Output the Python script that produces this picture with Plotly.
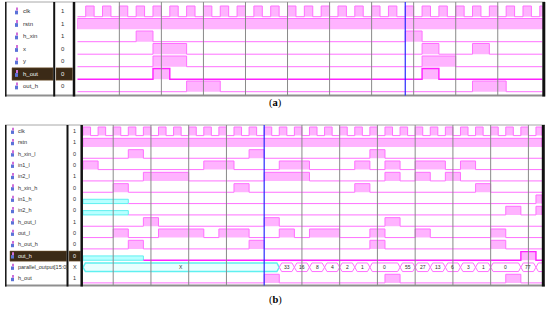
import plotly.graph_objects as go

W, H = 550, 312

# ---- panel (a): signal names, value column, high intervals (ns) ----
names_a = ["clk", "rstn", "h_xin", "x", "y", "h_out", "out_h"]
values_a = ["1", "1", "1", "0", "0", "0", "0"]
clk_a_rise = [5, 15, 25, 35, 45, 55, 65, 75, 85, 95, 105, 115, 125, 135,
              145, 155, 165, 175, 185, 195, 205, 215, 225, 235, 245, 255, 265, 275]
rstn_a = [(0, 280)]
h_xin_a = [(35, 45), (195, 205)]
x_a = [(45, 65), (205, 215), (235, 245)]
y_a = [(45, 65), (205, 225)]
h_out_a = [(45, 55), (205, 215)]
out_h_a = [(65, 85), (235, 255)]
grid_a = [25, 50, 75, 100, 125, 150, 175, 200, 225, 250]
cursor_a = 195

# ---- panel (b) ----
names_b = ["clk", "rstn", "h_xin_l", "in1_l", "in2_l", "h_xin_h", "in1_h", "in2_h",
           "h_out_l", "out_l", "h_out_h", "out_h", "parallel_output[15:0]", "h_out"]
values_b = ["1", "1", "0", "0", "1", "0", "0", "0", "1", "0", "0", "0", "X", "1"]
clk_b_rise = [0, 10, 20, 30, 40, 50, 60, 70, 80, 90, 100, 110, 120, 130, 140, 150,
              160, 170, 180, 190, 200, 210, 220, 230, 240, 250, 260, 270, 280, 290, 300]
rstn_b = [(0, 310)]
h_xin_l_b = [(30, 40), (110, 120), (190, 200)]
in1_l_b = [(0, 10), (80, 100), (130, 150), (180, 190), (200, 210), (220, 240), (250, 260)]
in2_l_b = [(40, 70), (120, 150), (200, 210), (220, 230), (240, 250)]
h_xin_h_b = [(20, 30), (100, 110), (180, 190), (260, 270)]
in1_h_b = [(300, 310)]
in2_h_b = [(280, 290), (300, 310)]
h_out_l_b = [(40, 50), (120, 130), (200, 210)]
out_l_b = [(20, 30), (50, 80), (90, 110), (130, 140), (150, 170), (190, 200), (220, 230), (270, 280)]
h_out_h_b = [(30, 40), (110, 120), (190, 200), (270, 280)]
out_h_b = [(290, 300)]
h_out_b = [(120, 130), (200, 210), (280, 290)]
undef_b = {"in1_h": 30, "in2_h": 30, "out_h": 40}   # end of the unknown (X) state
bus_edges_b = [0, 130, 140, 150, 160, 170, 180, 190, 210, 220, 230, 240, 250, 260, 270, 290, 300]
bus_labels_b = ["X", "33", "16", "8", "4", "2", "1", "0", "55", "27", "13", "6", "3", "1", "0", "77", ""]
grid_b = [20, 45, 70, 95, 120, 145, 170, 195, 220, 245, 270, 295]
cursor_b = 120

PINK_FILL = "#ffb3ff"
PINK_LINE = "#ff70ff"
SEL_LINE = "#ff22ff"
CYAN_FILL = "#b8ffff"
CYAN_LINE = "#5ff0f0"


def px(x):
    return x / W


def py(y):
    return 1 - y / H


# pixel geometry of each panel
GA = dict(xa="x", ya="y", t_end=276.6, wave=(77.3, 542.5), pix=(0, 100), y0=6, pitch=12.5,
          low=0.856, frame=(2, 95.5), name_col=54.2, val_col=74, right=543.8,
          name_x=21, icon_x=15, val_x=59, font=6, sel="h_out", hl=(12, 53, 56, 72.5),
          lab=0.42, caption="(<b>a</b>)", cap_y=103)
GB = dict(xa="x2", ya="y2", t_end=304, wave=(83, 542), pix=(120, 290), y0=127, pitch=11.33,
          low=0.759, frame=(125, 285.5), name_col=67.5, val_col=81.7, right=543.3,
          name_x=16, icon_x=11, val_x=71, font=5.5, sel="out_h", hl=(10, 66.5, 69, 80.5),
          lab=0.36, caption="(<b>b</b>)", cap_y=300)

fig = go.Figure()
shapes, annos = [], []


def add(g, xs, ys, fill=None, color=PINK_LINE, width=1):
    fig.add_trace(go.Scatter(
        x=xs, y=ys, mode="lines", fill="toself" if fill else None, fillcolor=fill,
        line=dict(color=color, width=width), xaxis=g["xa"], yaxis=g["ya"],
        hoverinfo="skip", showlegend=False))


def digital(g, i, ivs, undef=0, sel=False):
    hi, lo = i, i + g["low"]
    mid = (hi + lo) / 2
    t_end = g["t_end"]
    if undef:
        add(g, [0, undef, undef, 0, 0], [mid, mid, lo, lo, mid], fill=CYAN_FILL, color=CYAN_LINE)
    fx, fy, sx, sy = [], [], [undef], [lo]
    for s, e in ivs:
        e = min(e, t_end)
        fx += [s, s, e, e, s, None]
        fy += [lo, hi, hi, lo, lo, None]
        sx += [s, s, e, e]
        sy += [lo, hi, hi, lo]
    sx.append(t_end)
    sy.append(lo)
    if fx:
        add(g, fx, fy, fill=PINK_FILL, color=PINK_FILL, width=0)
    add(g, sx, sy, color=SEL_LINE if sel else PINK_LINE, width=1.4 if sel else 1)


def bus(g, i, edges, labels):
    hi, lo = i, i + g["low"]
    mid = (hi + lo) / 2
    d = 1.6
    cx, cy, kx, ky = [], [], [], []
    for k, s in enumerate(edges):
        e = edges[k + 1] if k + 1 < len(edges) else g["t_end"] + 3 * d
        xs = [s, s + d, e - d, e, e - d, s + d, s, None]
        ys = [mid, hi, hi, mid, lo, lo, mid, None]
        if labels[k] == "X":
            cx += xs
            cy += ys
        else:
            kx += xs
            ky += ys
        if labels[k]:
            annos.append(dict(x=(s + min(e, g["t_end"])) / 2, y=mid, xref=g["xa"], yref=g["ya"],
                              text=labels[k], showarrow=False,
                              font=dict(size=5, color="#303030", family="Liberation Sans")))
    add(g, cx, cy, fill="#eaffff", color=CYAN_LINE, width=1.5)
    add(g, kx, ky, fill="white", color=PINK_LINE, width=1)


def panel(g, names, values, rows):
    top, bot = g["frame"]
    # frame and column borders
    shapes.append(dict(type="line", xref="paper", yref="paper", x0=px(5), x1=px(545),
                       y0=py(top), y1=py(top), line=dict(color="#a8a8a8", width=1)))
    shapes.append(dict(type="line", xref="paper", yref="paper", x0=px(5), x1=px(545),
                       y0=py(bot), y1=py(bot), line=dict(color="#8f8f8f", width=2)))
    for xx, w in [(5.8, 1.5), (g["name_col"], 2), (g["val_col"], 2.5), (g["right"], 3)]:
        shapes.append(dict(type="line", xref="paper", yref="paper", x0=px(xx), x1=px(xx),
                           y0=py(top), y1=py(bot + 1), line=dict(color="#111111", width=w)))
    # selected row highlight
    si = names.index(g["sel"])
    n0, n1, v0, v1 = g["hl"]
    for a, b in [(n0, n1), (v0, v1)]:
        shapes.append(dict(type="rect", xref="paper", yref=g["ya"], x0=px(a), x1=px(b),
                           y0=si - 0.05, y1=si + g["low"] + 0.08, fillcolor="#3b2a17",
                           line=dict(color="#7a5a30", width=0.5), layer="below"))
    for i, (nm, val) in enumerate(zip(names, values)):
        sel = nm == g["sel"]
        c = "#f4f4f4" if sel else "#303030"
        yc = i + g["lab"]
        annos.append(dict(x=px(g["name_x"]), y=yc, xref="paper", yref=g["ya"], text=nm,
                          xanchor="left", yanchor="middle", showarrow=False,
                          font=dict(size=g["font"], color=c, family="Liberation Sans")))
        annos.append(dict(x=px(g["val_x"]), y=yc, xref="paper", yref=g["ya"], text=val,
                          xanchor="left", yanchor="middle", showarrow=False,
                          font=dict(size=g["font"], color=c, family="Liberation Sans")))
        ix = g["icon_x"]
        shapes.append(dict(type="rect", xref="paper", yref=g["ya"], x0=px(ix), x1=px(ix + 3),
                           y0=yc - 0.05, y1=yc + 0.25, fillcolor="#5a72d8", line=dict(width=0)))
        shapes.append(dict(type="rect", xref="paper", yref=g["ya"], x0=px(ix + 1), x1=px(ix + 3),
                           y0=yc - 0.3, y1=yc - 0.05, fillcolor="#d070d8", line=dict(width=0)))
        kind, data = rows[i]
        if kind == "bus":
            bus(g, i, *data)
        else:
            digital(g, i, data, undef_b.get(nm, 0) if g is GB else 0, sel)
    annos.append(dict(x=0.5, y=py(g["cap_y"]), xref="paper", yref="paper", text=g["caption"],
                      xanchor="center", yanchor="middle", showarrow=False,
                      font=dict(size=10.5, color="black", family="Liberation Serif")))


def clk(rise):
    return [(r, r + 5) for r in rise]


panel(GA, names_a, values_a,
      [("d", clk(clk_a_rise)), ("d", rstn_a), ("d", h_xin_a), ("d", x_a), ("d", y_a),
       ("d", h_out_a), ("d", out_h_a)])
panel(GB, names_b, values_b,
      [("d", clk(clk_b_rise)), ("d", rstn_b), ("d", h_xin_l_b), ("d", in1_l_b), ("d", in2_l_b),
       ("d", h_xin_h_b), ("d", in1_h_b), ("d", in2_h_b), ("d", h_out_l_b), ("d", out_l_b),
       ("d", h_out_h_b), ("d", out_h_b), ("bus", (bus_edges_b, bus_labels_b)), ("d", h_out_b)])

# grid lines and cursors on top of the waveforms
for g, grid, cur in [(GA, grid_a, cursor_a), (GB, grid_b, cursor_b)]:
    top, bot = g["frame"]
    for t in grid:
        if t == cur:
            continue
        shapes.append(dict(type="line", xref=g["xa"], yref="paper", x0=t, x1=t,
                           y0=py(bot), y1=py(top), line=dict(color="#8a8a8a", width=1), layer="above"))
    shapes.append(dict(type="line", xref=g["xa"], yref="paper", x0=cur, x1=cur,
                       y0=py(bot), y1=py(top), line=dict(color="#2a2aff", width=1.2), layer="above"))


def axes(g):
    p0, p1 = g["pix"]
    xd = dict(domain=[px(g["wave"][0]), px(g["wave"][1])], range=[0, g["t_end"]], visible=False)
    yd = dict(domain=[py(p1), py(p0)],
              range=[(p1 - g["y0"]) / g["pitch"], (p0 - g["y0"]) / g["pitch"]], visible=False)
    return xd, yd


xa, ya = axes(GA)
xb, yb = axes(GB)
xb["anchor"] = "y2"
yb["anchor"] = "x2"
fig.update_layout(
    width=W, height=H, margin=dict(l=0, r=0, t=0, b=0),
    paper_bgcolor="white", plot_bgcolor="white",
    xaxis=xa, yaxis=ya, xaxis2=xb, yaxis2=yb,
    shapes=shapes, annotations=annos, showlegend=False,
)

# page body has a default margin; drop it so the figure sits at the window corner
fig.write_html("out.html", config={"displayModeBar": False},
               post_script="document.body.style.margin='0';")
